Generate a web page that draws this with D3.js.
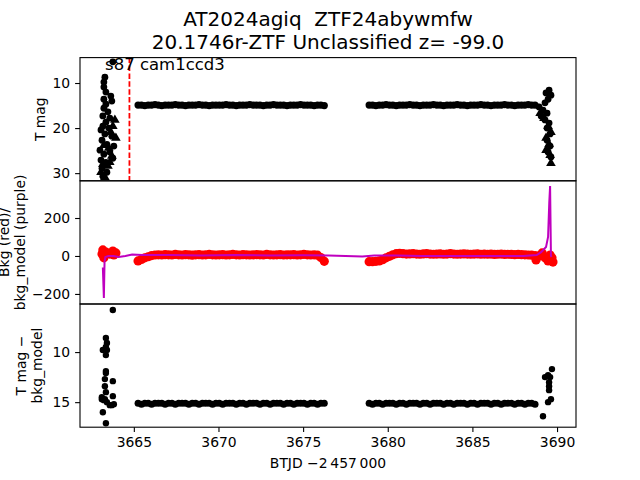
<!DOCTYPE html>
<html><head><meta charset="utf-8">
<script src="https://cdn.jsdelivr.net/npm/d3@7"></script>
<style>body{margin:0;background:#fff}svg{display:block}text{font-family:"DejaVu Sans",sans-serif;fill:#000;white-space:pre}</style>
</head><body>
<svg id="c" width="640" height="480"></svg>
<script>
// ---- data ----
const titleLines = ["AT2024agiq  ZTF24abywmfw", "20.1746r-ZTF Unclassified z= -99.0"];
const xTicks = [3665, 3670, 3675, 3680, 3685, 3690];
const topTicks = [10, 20, 30];
const midTicks = [-200, 0, 200];
const botTicks = [10, 15];
const vlineT = 3664.74;

// regular-cadence band (shared by all panels)
const bandT = [3665.25,3665.45,3665.65,3665.85,3666.05,3666.25,3666.45,3666.65,3666.85,3667.05,3667.25,3667.45,3667.65,3667.85,3668.05,3668.25,3668.45,3668.65,3668.85,3669.05,3669.25,3669.45,3669.65,3669.85,3670.05,3670.25,3670.45,3670.65,3670.85,3671.05,3671.25,3671.45,3671.65,3671.85,3672.05,3672.25,3672.45,3672.65,3672.85,3673.05,3673.25,3673.45,3673.65,3673.85,3674.05,3674.25,3674.45,3674.65,3674.85,3675.05,3675.25,3675.45,3675.65,3675.85,3676.05,3676.25,
 3678.9,3679.1,3679.3,3679.5,3679.7,3679.9,3680.1,3680.3,3680.5,3680.7,3680.9,3681.1,3681.3,3681.5,3681.7,3681.9,3682.1,3682.3,3682.5,3682.7,3682.9,3683.1,3683.3,3683.5,3683.7,3683.9,3684.1,3684.3,3684.5,3684.7,3684.9,3685.1,3685.3,3685.5,3685.7,3685.9,3686.1,3686.3,3686.5,3686.7,3686.9,3687.1,3687.3,3687.5,3687.7,3687.9,3688.1,3688.3,3688.5,3688.7];
const bandTopMag = [14.9,14.9,15.0,14.9,14.9,14.8,14.9,15.0,14.9,14.9,14.9,14.8,14.9,14.9,15.0,14.9,14.9,14.9,14.8,14.9,14.9,15.0,14.9,14.9,14.9,14.9,14.8,14.9,14.9,15.0,14.9,14.9,14.9,14.8,14.9,14.9,14.9,15.0,14.9,14.9,14.8,14.9,14.9,14.9,15.0,14.9,14.9,14.9,14.8,14.9,14.9,14.9,15.0,14.9,14.9,15.0,
 14.9,14.9,15.0,14.9,14.9,14.8,14.9,14.9,15.0,14.9,14.9,14.9,14.8,14.9,14.9,15.0,14.9,14.9,14.9,14.8,14.9,14.9,15.0,14.9,14.9,14.9,14.8,14.9,14.9,15.0,14.9,14.9,14.9,14.8,14.9,14.9,15.0,14.9,14.9,14.9,14.8,14.9,14.9,15.0,14.9,14.9,14.9,14.8,14.9,14.9];
const bandBkg = [-26,-18,-10,-4,2,5,6,5,7,6,5,8,6,5,7,6,4,6,7,5,6,8,6,5,6,7,5,6,8,6,5,7,6,5,6,7,6,5,8,6,5,6,7,5,6,6,7,5,6,8,6,5,6,4,-8,-28,
 -30,-30,-28,-26,-20,-10,-2,6,12,14,12,10,11,12,10,9,11,12,10,9,10,11,9,10,12,10,9,10,11,10,9,10,11,9,10,9,10,8,9,10,8,9,8,7,8,7,6,5,4,2];
const bandBotMag = [15.1,15.2,15.1,15.1,15.2,15.1,15.1,15.1,15.2,15.1,15.1,15.2,15.1,15.1,15.1,15.2,15.1,15.1,15.2,15.1,15.1,15.1,15.2,15.1,15.1,15.2,15.1,15.1,15.1,15.2,15.1,15.1,15.2,15.1,15.1,15.1,15.2,15.1,15.1,15.2,15.1,15.1,15.1,15.2,15.1,15.1,15.2,15.1,15.1,15.1,15.2,15.1,15.1,15.2,15.1,15.1,
 15.1,15.2,15.1,15.1,15.2,15.1,15.1,15.1,15.2,15.1,15.1,15.2,15.1,15.1,15.1,15.2,15.1,15.1,15.2,15.1,15.1,15.1,15.2,15.1,15.1,15.2,15.1,15.1,15.1,15.2,15.1,15.1,15.2,15.1,15.1,15.1,15.2,15.1,15.1,15.2,15.1,15.1,15.1,15.2,15.1,15.1,15.2,15.1,15.1,15.2];

// top panel: flaring detections (circles) and upper limits (triangles)
const detT = [3663.29,3663.23,3663.23,3663.35,3663.64,3663.23,3663.70,3663.35,3663.23,3663.47,3663.17,3663.58,3663.35,3663.17,3663.76,
 3663.06,3663.29,3663.52,3663.70,3663.12,3663.41,3663.82,3663.00,3663.23,3663.58,3663.06,3663.35,3663.76,3663.12,3663.41,3663.17,
 3689.53,3689.35,3689.64,3689.47,3689.29,3688.94,3689.17,3689.41,3689.06,3689.29,3689.53,3689.41,3689.59,3689.41,3689.59,3689.47,3689.64];
const detMag = [8.7,9.8,10.9,12.0,12.9,13.6,14.0,14.7,15.6,16.4,17.3,17.8,18.7,19.6,5.3,
 20.4,21.3,20.0,21.8,22.7,23.6,24.0,24.9,25.8,25.3,27.1,27.6,26.7,28.9,29.8,30.7,
 11.6,12.2,12.7,13.6,14.4,15.3,16.0,16.7,17.3,18.2,18.9,20.0,21.3,22.7,24.0,25.3,26.4];
const limT = [3663.88,3663.76,3663.64,3663.94,3663.23,3663.52,3663.70,3663.17,3663.47,3663.06,3663.29,3663.58,
 3689.00,3689.23,3689.47,3689.64,3689.35,3689.53,3689.35,3689.59,3689.64];
const limMag = [18.2,19.6,20.9,22.2,23.8,24.4,26.2,28.0,28.4,29.8,30.9,27.6,
 16.7,17.8,19.6,20.9,22.2,23.6,24.9,26.0,27.8];

// middle panel: extra background points and background model
const bkgT = [3663.17,3663.12,3663.23,3663.35,3663.58,3663.76,3663.82,3663.94,
 3688.76,3688.94,3689.12,3689.29,3689.47,3689.59,3689.70,3689.76];
const bkgV = [32,10,-10,21,10,26,5,16, -21,0,16,-10,-26,5,-10,-32];
const modelT = [3663.17,3663.23,3663.27,3663.32,3663.5,3663.8,3664.1,3664.5,3664.9,3665.5,3667,3669,3671,3673,3675,3676.5,3677.5,3678.5,3679.2,3680.5,3682,3684,3686,3688,3688.8,3689.06,3689.35,3689.47,3689.54,3689.59,3689.64,3689.68];
const modelV = [-60,-221,-30,-5,0,0,-5,0,8,5,5,3,5,3,4,3,0,-3,3,2,0,0,0,0,5,20,47,100,280,368,0,-5];

// bottom panel: flare residuals
const resT = [3663.76,3663.35,3663.41,3663.35,3663.17,3663.41,3663.35,3663.35,3663.35,3663.76,3663.29,3663.29,3663.35,3663.76,3663.11,3663.29,3663.11,3663.41,3663.58,3663.82,3663.70,3663.17,3663.35,3663.23,
 3689.70,3689.47,3689.29,3689.59,3689.53,3689.53,3689.53,3689.64,3689.47,3689.17];
const resMag = [5.8,8.6,9.1,9.5,9.8,9.8,10.3,11.9,12.1,12.9,12.7,13.4,14.0,14.4,14.5,14.7,14.7,15.0,15.3,15.2,15.3,16.0,17.1,14.8,
 11.7,12.3,12.5,12.5,13.0,13.4,13.8,14.7,15.0,16.4];

// ---- layout ----
const svg = d3.select("#c");
const L = 80, R = 576, T0 = 57.6, H = 123.2;
const panels = [T0, T0 + H, T0 + 2 * H];
const x = d3.scaleLinear([3661.82, 3691.12], [L, R]);
const yTop = d3.scaleLinear([4.36, 31.7], [panels[0], panels[0] + H]);
const yMid = d3.scaleLinear([-253, 396], [panels[1] + H, panels[1]]);
const yBot = d3.scaleLinear([5.2, 17.5], [panels[2], panels[2] + H]);

const defs = svg.append("defs");
panels.forEach((p, i) => defs.append("clipPath").attr("id", "cp" + i)
  .append("rect").attr("x", L).attr("y", p).attr("width", R - L).attr("height", H));

const g0 = svg.append("g").attr("clip-path", "url(#cp0)");
const g1 = svg.append("g").attr("clip-path", "url(#cp1)");
const g2 = svg.append("g").attr("clip-path", "url(#cp2)");

// top panel
g0.append("line").attr("x1", x(vlineT)).attr("x2", x(vlineT)).attr("y1", panels[0]).attr("y2", panels[0] + H)
  .attr("stroke", "#ff0000").attr("stroke-width", 1.8).attr("stroke-dasharray", "5.5,2.4");
g0.selectAll(".b").data(bandT).join("circle").attr("cx", d => x(d)).attr("cy", (d, i) => yTop(bandTopMag[i])).attr("r", 3.6).attr("fill", "#000");
g0.selectAll(".d").data(detT).join("circle").attr("cx", d => x(d)).attr("cy", (d, i) => yTop(detMag[i])).attr("r", 3.4).attr("fill", "#000");
const tri = d3.symbol().type(d3.symbolTriangle).size(40);
g0.selectAll(".l").data(limT).join("path").attr("d", tri)
  .attr("transform", (d, i) => `translate(${x(d)},${yTop(limMag[i])})`).attr("fill", "#000");

// middle panel
g1.selectAll(".r").data(bandT).join("circle").attr("cx", d => x(d)).attr("cy", (d, i) => yMid(bandBkg[i])).attr("r", 4.6).attr("fill", "#ff0000");
g1.selectAll(".r2").data(bkgT).join("circle").attr("cx", d => x(d)).attr("cy", (d, i) => yMid(bkgV[i])).attr("r", 4.6).attr("fill", "#ff0000");
g1.append("path").datum(modelT).attr("fill", "none").attr("stroke", "#bf00bf").attr("stroke-width", 2)
  .attr("d", d3.line().x(d => x(d)).y((d, i) => yMid(modelV[i])));

// bottom panel
g2.selectAll(".bb").data(bandT).join("circle").attr("cx", d => x(d)).attr("cy", (d, i) => yBot(bandBotMag[i])).attr("r", 3.5).attr("fill", "#000");
g2.selectAll(".rr").data(resT).join("circle").attr("cx", d => x(d)).attr("cy", (d, i) => yBot(resMag[i])).attr("r", 3.2).attr("fill", "#000");

// axes
const fs = "13.9px";
function styleAx(sel) {
  sel.selectAll("text").style("font-size", fs).style("font-family", "DejaVu Sans");
  sel.selectAll("line").attr("stroke-width", 1.1);
  sel.select(".domain").remove();
}
svg.append("g").attr("transform", `translate(${L},0)`).call(d3.axisLeft(yTop).tickValues(topTicks).tickSize(4.9).tickPadding(4.9)).call(styleAx);
svg.append("g").attr("transform", `translate(${L},0)`).call(d3.axisLeft(yMid).tickValues(midTicks).tickSize(4.9).tickPadding(4.9)).call(styleAx);
svg.append("g").attr("transform", `translate(${L},0)`).call(d3.axisLeft(yBot).tickValues(botTicks).tickSize(4.9).tickPadding(4.9)).call(styleAx);
svg.append("g").attr("transform", `translate(0,${panels[2] + H})`).call(d3.axisBottom(x).tickValues(xTicks).tickFormat(d3.format("d")).tickSize(4.9).tickPadding(4.9)).call(styleAx);

// frames
panels.forEach(p => svg.append("rect").attr("x", L).attr("y", p).attr("width", R - L).attr("height", H)
  .attr("fill", "none").attr("stroke", "#000").attr("stroke-width", 1.1));

// text
svg.append("text").attr("x", x(3663.3)).attr("y", 70).style("font-size", "16.5px").text("s87 cam1ccd3");
titleLines.forEach((t, i) => svg.append("text").attr("x", (L + R) / 2).attr("y", 26 + i * 23)
  .attr("text-anchor", "middle").style("font-size", "20px").text(t));
svg.append("text").attr("x", (L + R) / 2).attr("y", 468).attr("text-anchor", "middle").style("font-size", fs)
  .text("BTJD \u22122\u2009457\u2009000");

function ylab(lines, cx, cy) {
  const t = svg.append("text").attr("transform", `translate(${cx},${cy}) rotate(-90)`)
    .attr("text-anchor", "middle").style("font-size", fs);
  lines.forEach((s, i) => t.append("tspan").attr("x", 0).attr("dy", i === 0 ? 0 : 16.3).text(s));
}
ylab(["T mag"], 45, panels[0] + H / 2);
ylab(["Bkg (red)/", "bkg_model (purple)"], 9, panels[1] + H / 2);
ylab(["T mag \u2212", "bkg_model"], 26, panels[2] + H / 2);
</script>
</body></html>
